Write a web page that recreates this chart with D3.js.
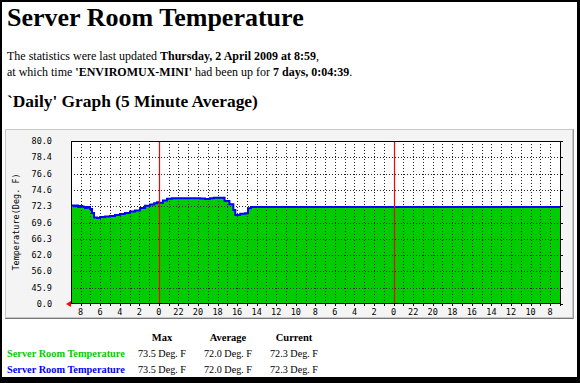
<!DOCTYPE html>
<html><head><meta charset="utf-8">
<script src="https://cdn.jsdelivr.net/npm/d3@7/dist/d3.min.js"></script>
<style>html,body{margin:0;padding:0;background:#fff;overflow:hidden}svg{display:block}</style>
</head><body>
<script>
// ---- data ----
const yTicks = [0.0, 45.9, 56.0, 62.0, 66.3, 69.6, 72.3, 74.6, 76.6, 78.4, 80.0];
const xTickLabels = ["8","6","4","2","0","22","20","18","16","14","12","10","8","6","4","2","0","22","20","18","16","14","12","10","8"];
const hoursAgo = [0, 0.3, 0.5, 0.72, 0.9, 1.12, 1.3, 1.43, 1.6, 1.74, 1.94, 2.15, 2.35, 2.66, 2.97, 3.48, 3.99, 4.5, 5.01, 5.52, 6.03, 6.54, 7.06, 7.57, 8.08, 8.5, 8.79, 9.0, 9.41, 9.82, 10.3, 11.1, 12.2, 13.2, 13.7, 14.2, 14.6, 15.0, 15.4, 15.7, 16.2, 16.6, 16.8, 17.3, 17.8, 18.1, 18.4, 50.1];
const temps    = [72.4, 72.3, 72.4, 72.17, 72.33, 72.25, 72.17, 72.0, 72.1, 72.17, 71.84, 71.17, 70.43, 70.35, 70.5, 70.59, 70.68, 70.84, 71.01, 71.17, 71.42, 71.59, 72.0, 72.35, 72.55, 72.7, 72.85, 72.77, 73.1, 73.35, 73.43, 73.43, 73.43, 73.38, 73.32, 73.43, 73.48, 73.5, 73.5, 73.03, 72.58, 71.67, 70.84, 71.06, 71.12, 71.95, 72.17, 72.17];
const nowHour = 8 + 59/60;
const legendHeaders = ["Max", "Average", "Current"];
const legendNames = ["Server Room Temperature", "Server Room Temperature"];
const legendColors = ["#00cc00", "#0000ff"];
const legendValues = [["73.5 Deg. F", "72.0 Deg. F", "72.3 Deg. F"], ["73.5 Deg. F", "72.0 Deg. F", "72.3 Deg. F"]];

const W = 580, H = 383;
const svg = d3.select("body").append("svg").attr("width", W).attr("height", H);

// page border
svg.append("rect").attr("x",0).attr("y",0).attr("width",W).attr("height",H).attr("fill","#000");
svg.append("rect").attr("x",2).attr("y",2).attr("width",W-5).attr("height",H-8).attr("fill","#fff");

const serif = "'Liberation Serif','Times New Roman',serif";
function fit(sel, w){ const l = sel.node().getComputedTextLength(); const fs = parseFloat(sel.attr("font-size")); sel.attr("font-size", fs*w/l); }

// header text
const t = svg.append("text").attr("x",7).attr("y",26).attr("font-family",serif).attr("font-weight","bold").attr("font-size",26).text("Server Room Temperature");
fit(t, 297);

function richLine(yy, parts){
  const tx = svg.append("text").attr("x",7).attr("y",yy).attr("font-family",serif).attr("font-size",12);
  parts.forEach(p => tx.append("tspan").attr("font-weight", p[1] ? "bold" : "normal").text(p[0]));
}
richLine(60, [["The statistics were last updated ",0],["Thursday, 2 April 2009 at 8:59",1],[",",0]]);
richLine(76, [["at which time ",0],["'ENVIROMUX-MINI'",1],[" had been up for ",0],["7 days, 0:04:39",1],[".",0]]);

const hd = svg.append("text").attr("x",7).attr("y",107).attr("font-family",serif).attr("font-weight","bold").attr("font-size",16).text("`Daily' Graph (5 Minute Average)");
fit(hd, 251);

// chart box
svg.append("rect").attr("x",5.5).attr("y",129.5).attr("width",567).attr("height",188).attr("fill","#f4f4f4").attr("stroke","#c8c8c8");
svg.append("line").attr("x1",5).attr("x2",573).attr("y1",318.5).attr("y2",318.5).attr("stroke","#777");
svg.append("line").attr("x1",573.5).attr("x2",573.5).attr("y1",129).attr("y2",319).attr("stroke","#999");

const L = 71, R = 561, T = 141, B = 304;
const x = d3.scaleLinear().domain([0, 50.1]).range([L, R]);
const y = d3.scaleLinear().domain(yTicks).range(yTicks.map((d,i) => B - i*(B-T)/(yTicks.length-1)));

svg.append("rect").attr("x",L).attr("y",T).attr("width",R-L).attr("height",B-T).attr("fill","#fff");

const data = hoursAgo.map((h,i) => ({h, v: temps[i]}));
svg.append("path").datum(data).attr("fill","#00cc00")
  .attr("d", d3.area().x(d=>x(d.h)).y0(B).y1(d=>y(d.v)).curve(d3.curveStepAfter));

// grid
const g = svg.append("g");
const firstHour = nowHour - Math.floor(nowHour);
const hourLines = d3.range(0, 50).map(k => firstHour + k).filter(h => h < 50.1);
g.selectAll(".vg").data(hourLines).join("line")
  .attr("x1", d=>Math.round(x(d))+0.5).attr("x2", d=>Math.round(x(d))+0.5)
  .attr("y1",T).attr("y2",B).attr("stroke","#222").attr("stroke-width",1).attr("stroke-dasharray","1,2");
g.selectAll(".hg").data(yTicks.slice(1)).join("line")
  .attr("x1",L).attr("x2",R).attr("y1",d=>Math.round(y(d))+0.5).attr("y2",d=>Math.round(y(d))+0.5)
  .attr("stroke","#222").attr("stroke-width",1).attr("stroke-dasharray","1,2");

// series line
svg.append("path").datum(data).attr("fill","none").attr("stroke","#0000ff").attr("stroke-width",2)
  .attr("d", d3.line().x(d=>x(d.h)).y(d=>y(d.v)).curve(d3.curveStepAfter));

// midnight lines
const midnights = hourLines.filter((h,i) => xTickLabels[Math.floor(i/2)] === "0" && i%2===0);
svg.selectAll(".mid").data(midnights).join("line")
  .attr("x1", d=>Math.round(x(d))+0.5).attr("x2", d=>Math.round(x(d))+0.5)
  .attr("y1",T).attr("y2",B).attr("stroke","#ff0000").attr("stroke-width",1.2);

// frame
svg.append("rect").attr("x",L+0.5).attr("y",T+0.5).attr("width",R-L-1).attr("height",B-T-1).attr("fill","none").attr("stroke","#000");
svg.selectAll(".rt").data(yTicks).join("line")
  .attr("x1",R).attr("x2",R+2).attr("y1",d=>Math.round(y(d))+0.5).attr("y2",d=>Math.round(y(d))+0.5).attr("stroke","#000");
svg.selectAll(".bt").data(hourLines).join("line")
  .attr("x1", d=>Math.round(x(d))+0.5).attr("x2", d=>Math.round(x(d))+0.5).attr("y1",B).attr("y2",B+2).attr("stroke","#000");

// arrow
svg.append("path").attr("d",`M${L-5},${B} L${L},${B-3} L${L},${B+3} Z`).attr("fill","#ff0000");

const mono = "'DejaVu Sans Mono',monospace";
svg.selectAll(".yl").data(yTicks).join("text")
  .attr("x",52).attr("y",d=>y(d)+3).attr("text-anchor","end").attr("font-family",mono).attr("font-size",8.5).attr("fill","#000")
  .text(d=>d.toFixed(1));
svg.selectAll(".xl").data(xTickLabels).join("text")
  .attr("x",(d,i)=>x(firstHour + 2*i)).attr("y",315).attr("text-anchor","middle").attr("font-family",mono).attr("font-size",8.5)
  .text(d=>d);
svg.append("text").attr("transform","translate(19,222) rotate(-90)").attr("text-anchor","middle")
  .attr("font-family",mono).attr("font-size",8.5).text("Temperature(Deg. F)");

// legend
const colX = [162, 228, 294];
svg.selectAll(".lh").data(legendHeaders).join("text")
  .attr("x",(d,i)=>colX[i]).attr("y",341).attr("text-anchor","middle").attr("font-family",serif).attr("font-weight","bold").attr("font-size",10.5).text(d=>d);
legendNames.forEach((n,r) => {
  const yy = 357 + r*16;
  const nt = svg.append("text").attr("x",7).attr("y",yy).attr("font-family",serif).attr("font-weight","bold").attr("font-size",10.5).attr("fill",legendColors[r]).text(n);
  fit(nt, 118);
  legendValues[r].forEach((v,c) => {
    const vt = svg.append("text").attr("x",colX[c]).attr("y",yy).attr("text-anchor","middle").attr("font-family",serif).attr("font-size",10.5).text(v);
    fit(vt, 48);
  });
});
</script>
</body></html>
